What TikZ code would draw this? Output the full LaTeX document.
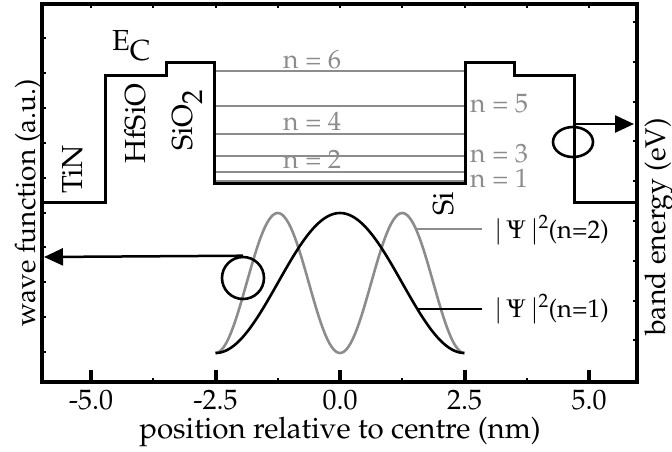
\documentclass[tikz,border=0pt]{standalone}
\usepackage[T1]{fontenc}
\usepackage{mathpazo}
\usetikzlibrary{arrows.meta,shapes.geometric}
\definecolor{lvl}{RGB}{140,140,140}
\begin{document}
\begin{tikzpicture}[x=1pt,y=-1pt,
  frameline/.style={line width=4pt},
  band/.style={line width=3pt, line join=miter},
  level/.style={lvl, line width=2pt},
  curve/.style={line width=2.6pt},
  lbl/.style={font=\fontsize{29}{32}\selectfont, inner sep=0pt},
  axlbl/.style={font=\fontsize{28.5}{32}\selectfont, inner sep=0pt},
  ticklbl/.style={font=\fontsize{28}{32}\selectfont, inner sep=0pt, anchor=base},
  glbl/.style={font=\fontsize{26.5}{30}\selectfont, inner sep=0pt, text=lvl, anchor=base west},
  leglbl/.style={font=\fontsize{25.5}{30}\selectfont, inner sep=0pt, anchor=base west},
  arr/.style={line width=2.5pt, -{Triangle[length=19pt,width=17pt]}},
  marker/.style={draw, line width=2.6pt, inner sep=0pt}
]
\useasboundingbox (0,0) rectangle (672,451);
% frame
\draw[frameline] (42,4) rectangle (637,382);
% bottom ticks
\foreach \t in {-5,-2.5,0,2.5,5}
  \draw[line width=4pt] ({340+49.8*\t},382) -- ({340+49.8*\t},370);
\foreach \t in {-3.75,-1.25,1.25,3.75}
  \draw[line width=2pt] ({340+49.8*\t},382) -- ({340+49.8*\t},378);
% top ticks
\foreach \t in {-5,-3.75,-2.5,-1.25,0,1.25,2.5,3.75,5}
  \draw[line width=2pt] ({340+49.8*\t},4) -- ({340+49.8*\t},8);
% left ticks
\foreach \k in {0,...,9}
  \draw[line width=2pt] (42,{38+34.9*\k}) -- (46,{38+34.9*\k});
% right ticks
\foreach \k in {0,...,8}
  \draw[line width=2pt] (637,{22+39.8*\k}) -- (633,{22+39.8*\k});
% energy levels
\foreach \y in {71,106,134,156,171.7,181}
  \draw[level] (214,\y) -- (465,\y);
% band edge
\draw[band] (42,202) -- (105,202) -- (105,75) -- (166,75) -- (166,62) -- (214,62)
  -- (214,183) -- (465,183) -- (465,62) -- (514,62) -- (514,75) -- (574,75)
  -- (574,202) -- (637,202);
% wave functions
\draw[curve, lvl] plot[domain=-2.5:2.5, samples=121, smooth]
  ({340+49.8*\x},{353-140*sin(72*\x)*sin(72*\x)});
\draw[curve, black] plot[domain=-2.5:2.5, samples=121, smooth]
  ({340+49.8*\x},{353-140*cos(36*\x)*cos(36*\x)});
% legend lines
\coordinate (g2s) at (416,229);
\coordinate (g2e) at (482,229);
\coordinate (g1s) at (417,309);
\coordinate (g1e) at (482,309);
\draw[level, line width=2.5pt] (g2s) -- (g2e);
\draw[line width=2.5pt] (g1s) -- (g1e);
\node[leglbl] (leg2) at (494,238) {$|\,\Psi\,|^2$(n=2)};
\node[leglbl] (leg1) at (494,317) {$|\,\Psi\,|^2$(n=1)};
% markers and arrows
\node[marker, circle, minimum size=42pt] (lc) at (243,278) {};
\coordinate (ltip) at (44,257);
\draw[arr] (lc.north) -- (ltip);
\node[marker, ellipse, minimum width=40pt, minimum height=30pt] (rc) at (573,142) {};
\coordinate (rs) at (573,124);
\coordinate (rtip) at (634,124);
\draw[arr] (rs) -- (rtip);
% material labels
\node[lbl, anchor=base west] (ec) at (112,50) {E\raisebox{-10pt}{C}};
\node[lbl, rotate=90, anchor=base west] (tin) at (82,194) {TiN};
\node[lbl, rotate=90, anchor=base west] (hfsio) at (145,164) {HfSiO};
\node[lbl, rotate=90, anchor=base west] (sio2) at (192,151) {SiO\raisebox{-10pt}{2}};
\node[lbl, rotate=90, anchor=base west] (si) at (453,216) {Si};
% level labels
\node[glbl] (n6) at (283,68) {n = 6};
\node[glbl] (n4) at (283,130) {n = 4};
\node[glbl] (n2) at (283,168) {n = 2};
\node[glbl] (n5) at (470,112) {n = 5};
\node[glbl] (n3) at (470,162) {n = 3};
\node[glbl] (n1) at (470,187) {n = 1};
% tick labels
\node[ticklbl] (tm5) at ({340-49.8*5},409) {-5.0};
\node[ticklbl] (tm2) at ({340-49.8*2.5},409) {-2.5};
\node[ticklbl] (t0) at (340,409) {0.0};
\node[ticklbl] (tp2) at ({340+49.8*2.5},409) {2.5};
\node[ticklbl] (tp5) at ({340+49.8*5},409) {5.0};
% axis titles
\node[axlbl, anchor=base, font=\fontsize{29.5}{32}\selectfont] (xl) at (340,438) {position relative to centre (nm)};
\node[axlbl, rotate=90, anchor=base, font=\fontsize{28}{32}\selectfont] (yl) at (35,203) {wave function (a.u.)};
\node[axlbl, rotate=90, anchor=base] (yr) at (665,227) {band energy (eV)};
\end{tikzpicture}
\end{document}
